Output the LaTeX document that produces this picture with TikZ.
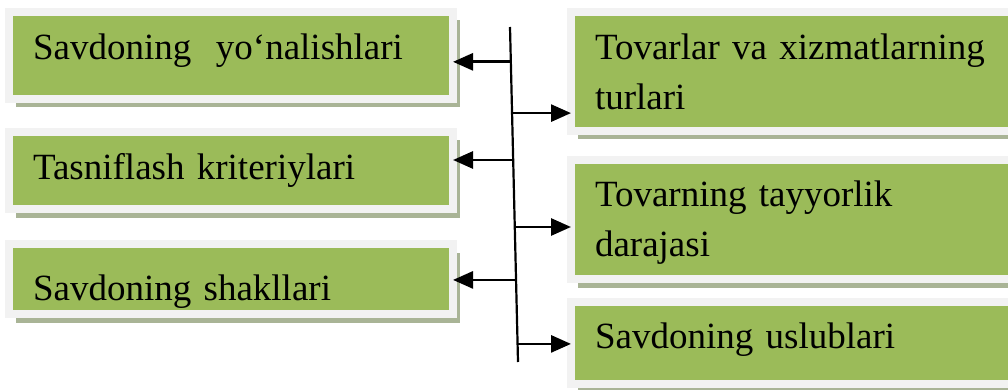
\documentclass[tikz,border=0pt]{standalone}
\usepackage{fontspec}
\setmainfont{Liberation Serif}
\usepackage{tikz}
\usetikzlibrary{arrows.meta, shadows, positioning}
\usetikzlibrary{calc}
\usepackage{xcolor}
\definecolor{boxgreen}{HTML}{9BBB59}
\definecolor{boxedge}{HTML}{F2F2F2}
\definecolor{boxshade}{HTML}{A9B496}

\begin{document}
\begin{tikzpicture}[x=1pt,y=-1pt,
		box/.style={draw=boxedge, line width=8pt, fill=boxgreen, anchor=north west,
			inner xsep=24pt, inner ysep=0pt, outer sep=0pt, align=left,
			font=\fontsize{37}{50}\selectfont,
			drop shadow={shadow xshift=7pt, shadow yshift=-8.5pt, fill=boxshade, opacity=1}},
		lbox/.style={box, text width=396pt},
		rbox/.style={box, text width=401pt},
		arr/.style={line width=2.8pt, -{Triangle[length=20pt,width=17pt]}}]
				\useasboundingbox (0,0) rectangle (1008,390);
				\clip (0,0) rectangle (1008,390);
				\node[lbox, text height=48pt, text depth=39pt] (yonalish) at (9,12) {Savdoning~ yo‘nalishlari};
				\node[lbox, text height=47pt, text depth=30pt] (tasnif) at (9,132) {Tasniflash kriteriylari};
				\node[lbox, text height=56pt, text depth=14pt] (shakl) at (9,244) {Savdoning shakllari};
				\node[rbox, text height=48pt, text depth=71pt] (tovar) at (571,12) {Tovarlar va xizmatlarning\\turlari};
				\node[rbox, text height=46pt, text depth=73pt] (daraja) at (571,160) {Tovarning tayyorlik\\darajasi};
				\node[rbox, text height=46pt, text depth=36pt] (uslub) at (571,302) {Savdoning uslublari};
				\coordinate (stop) at (510,27);
				\coordinate (sbot) at (518,362);
				\draw[line width=2.2pt] (stop) -- (sbot);
				\coordinate (l1) at ($(stop)!0.104!(sbot)$);
				\coordinate (l2) at ($(stop)!0.397!(sbot)$);
				\coordinate (l3) at ($(stop)!0.755!(sbot)$);
				\coordinate (r1) at ($(stop)!0.257!(sbot)$);
				\coordinate (r2) at ($(stop)!0.597!(sbot)$);
				\coordinate (r3) at ($(stop)!0.946!(sbot)$);
				\draw[arr] (l1) -- (l1 -| yonalish.east);
				\draw[arr] (l2) -- (l2 -| tasnif.east);
				\draw[arr] (l3) -- (l3 -| shakl.east);
				\draw[arr] (r1) -- (r1 -| tovar.west);
				\draw[arr] (r2) -- (r2 -| daraja.west);
				\draw[arr] (r3) -- (r3 -| uslub.west);
			\end{tikzpicture}
\end{document}
